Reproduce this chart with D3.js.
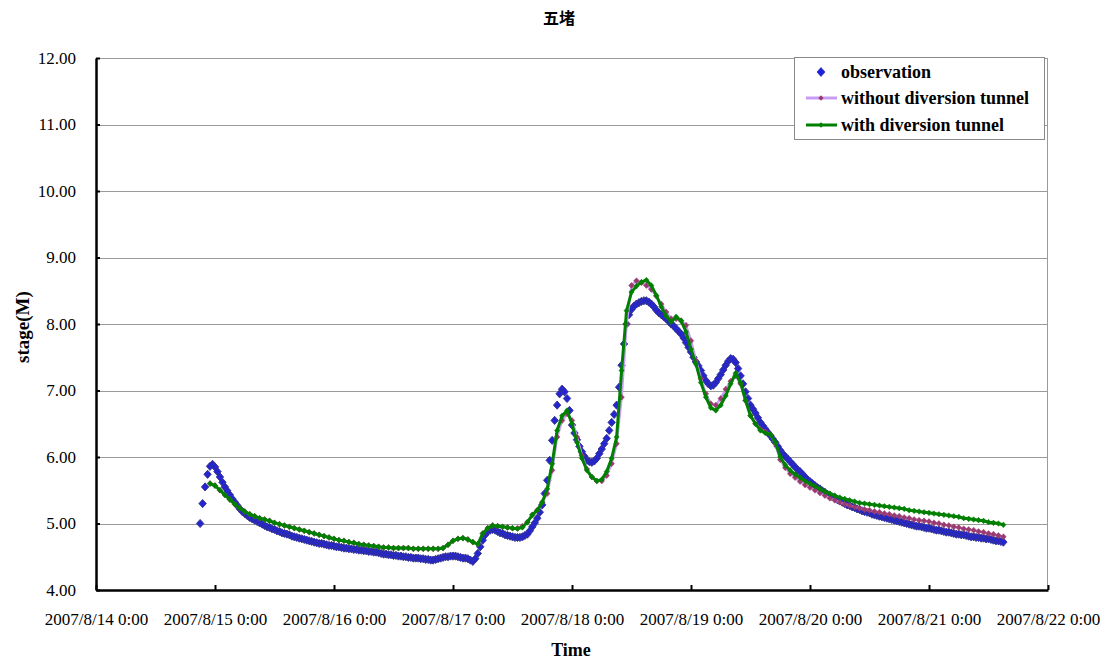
<!DOCTYPE html>
<html><head><meta charset="utf-8">
<script src="https://cdn.jsdelivr.net/npm/d3@7"></script>
<style>
html,body{margin:0;padding:0;background:#fff;}
svg{display:block;}
</style></head>
<body>
<svg id="chart" width="1107" height="664"></svg>
<script>
// ---- DATA (hours counted from 2007/8/14 0:00) ----
const title = "五堵";
const seriesNames = ["observation", "without diversion tunnel", "with diversion tunnel"];
const xTickLabels = ["2007/8/14 0:00","2007/8/15 0:00","2007/8/16 0:00","2007/8/17 0:00","2007/8/18 0:00","2007/8/19 0:00","2007/8/20 0:00","2007/8/21 0:00","2007/8/22 0:00"];
const yTicks = [4,5,6,7,8,9,10,11,12];

// observation: every 30 minutes from hour 21 (2007/8/14 21:00)
const observationStartHour = 21;
const observationStepHours = 0.5;
const observation = [
5.00,5.30,5.55,5.74,5.86,5.89,5.85,5.78,5.70,5.62,
5.55,5.49,5.43,5.37,5.32,5.27,5.22,5.18,5.15,5.12,
5.09,5.07,5.05,5.03,5.01,4.99,4.97,4.95,4.94,4.92,
4.91,4.89,4.88,4.86,4.85,4.84,4.83,4.81,4.80,4.79,
4.78,4.77,4.76,4.75,4.74,4.73,4.72,4.71,4.70,4.70,
4.69,4.68,4.67,4.67,4.66,4.65,4.65,4.64,4.63,4.63,
4.62,4.62,4.61,4.61,4.60,4.60,4.59,4.59,4.58,4.58,
4.57,4.57,4.56,4.55,4.54,4.54,4.53,4.53,4.52,4.52,
4.51,4.51,4.50,4.50,4.49,4.49,4.48,4.48,4.48,4.47,
4.47,4.46,4.46,4.45,4.45,4.46,4.47,4.48,4.49,4.50,
4.50,4.51,4.51,4.51,4.50,4.49,4.48,4.48,4.47,4.45,
4.43,4.47,4.55,4.65,4.75,4.83,4.88,4.90,4.91,4.90,
4.88,4.86,4.85,4.83,4.82,4.81,4.80,4.79,4.79,4.79,
4.80,4.82,4.84,4.89,4.95,5.01,5.08,5.17,5.28,5.45,
5.65,5.95,6.25,6.55,6.78,6.95,7.02,6.98,6.88,6.70,
6.48,6.36,6.26,6.16,6.08,6.01,5.95,5.93,5.92,5.94,
5.98,6.05,6.12,6.20,6.28,6.40,6.52,6.64,6.78,7.05,
7.38,7.70,8.00,8.14,8.22,8.27,8.30,8.32,8.34,8.35,
8.35,8.33,8.30,8.26,8.21,8.17,8.14,8.11,8.08,8.04,
8.00,7.97,7.93,7.89,7.85,7.79,7.72,7.65,7.58,7.50,
7.43,7.37,7.30,7.22,7.15,7.10,7.07,7.08,7.12,7.18,
7.24,7.31,7.38,7.44,7.48,7.47,7.42,7.33,7.22,7.10,
6.98,6.88,6.78,6.72,6.66,6.59,6.52,6.47,6.42,6.37,
6.32,6.27,6.22,6.16,6.10,6.05,6.01,5.97,5.93,5.89,
5.85,5.81,5.78,5.74,5.70,5.66,5.63,5.60,5.57,5.54,
5.52,5.49,5.47,5.44,5.42,5.40,5.38,5.36,5.34,5.32,
5.30,5.28,5.27,5.25,5.24,5.22,5.21,5.19,5.18,5.17,
5.16,5.14,5.13,5.12,5.11,5.10,5.09,5.08,5.07,5.06,
5.05,5.04,5.03,5.02,5.01,5.00,4.99,4.98,4.97,4.96,
4.96,4.95,4.94,4.93,4.93,4.92,4.91,4.90,4.90,4.89,
4.88,4.87,4.87,4.86,4.85,4.84,4.84,4.83,4.83,4.82,
4.81,4.80,4.80,4.79,4.79,4.78,4.78,4.77,4.77,4.76,
4.75,4.74,4.74,4.73,4.72];

// model results: hourly from hour 23 (2007/8/14 23:00)
const modelStartHour = 23;
const modelStepHours = 1;
const withoutTunnel = [
5.60,5.57,5.50,5.43,5.36,5.29,5.23,5.18,5.14,5.11,
5.08,5.06,5.04,5.01,4.99,4.97,4.95,4.93,4.91,4.89,
4.87,4.85,4.83,4.81,4.79,4.77,4.75,4.74,4.72,4.71,
4.69,4.68,4.67,4.66,4.65,4.64,4.64,4.63,4.63,4.63,
4.63,4.62,4.62,4.62,4.62,4.62,4.62,4.63,4.68,4.74,
4.77,4.78,4.76,4.72,4.69,4.85,4.93,4.97,4.96,4.95,
4.94,4.93,4.93,4.96,5.02,5.13,5.20,5.32,5.45,5.80,
6.30,6.55,6.65,6.55,6.30,6.02,5.82,5.70,5.64,5.64,
5.72,5.90,6.20,6.90,8.00,8.58,8.65,8.62,8.58,8.52,
8.42,8.30,8.18,8.08,8.08,8.05,7.98,7.75,7.45,7.18,
6.95,6.80,6.78,6.88,7.02,7.14,7.22,7.10,6.85,6.62,
6.50,6.42,6.38,6.34,6.20,5.96,5.84,5.75,5.69,5.63,
5.58,5.54,5.50,5.46,5.42,5.38,5.35,5.32,5.29,5.27,
5.25,5.23,5.21,5.20,5.18,5.17,5.15,5.14,5.12,5.11,
5.09,5.08,5.06,5.05,5.04,5.03,5.01,5.00,4.98,4.97,
4.95,4.94,4.92,4.91,4.90,4.88,4.87,4.85,4.84,4.82,
4.80];
const withTunnel = [
5.60,5.57,5.50,5.43,5.36,5.29,5.23,5.18,5.14,5.11,
5.08,5.06,5.04,5.01,4.99,4.97,4.95,4.93,4.91,4.89,
4.87,4.85,4.83,4.81,4.79,4.77,4.75,4.74,4.72,4.71,
4.69,4.68,4.67,4.66,4.65,4.64,4.64,4.63,4.63,4.63,
4.63,4.62,4.62,4.62,4.62,4.62,4.62,4.63,4.68,4.74,
4.77,4.78,4.76,4.72,4.69,4.85,4.93,4.97,4.96,4.95,
4.94,4.93,4.92,4.94,5.02,5.13,5.20,5.32,5.52,5.90,
6.40,6.62,6.70,6.50,6.22,5.98,5.80,5.70,5.64,5.66,
5.78,5.98,6.30,7.30,8.20,8.48,8.57,8.63,8.66,8.58,
8.43,8.26,8.12,8.03,8.11,8.05,7.88,7.62,7.40,7.12,
6.90,6.74,6.70,6.78,6.92,7.10,7.26,7.12,6.85,6.62,
6.50,6.40,6.36,6.34,6.22,6.00,5.88,5.80,5.74,5.69,
5.64,5.60,5.56,5.52,5.48,5.45,5.42,5.39,5.37,5.35,
5.33,5.31,5.30,5.29,5.28,5.27,5.26,5.25,5.24,5.23,
5.22,5.20,5.19,5.18,5.17,5.16,5.15,5.14,5.13,5.12,
5.11,5.10,5.08,5.07,5.06,5.05,5.04,5.02,5.01,5.00,
4.98];

// ---- CHART ----
const svg = d3.select("#chart");
const m = {left: 96, right: 1047, top: 58, bottom: 590};
const t0 = new Date(2007, 7, 14, 0, 0);
const hourToDate = h => new Date(t0.getTime() + h * 3600000);
const x = d3.scaleTime().domain([t0, new Date(2007, 7, 22, 0, 0)]).range([m.left, m.right + 1]);
const y = d3.scaleLinear().domain([4, 12]).range([m.bottom, m.top]);

const serif = "'Liberation Serif','Times New Roman',serif";

// gridlines
svg.append("g").selectAll("line").data(yTicks.filter(v => v > 4)).join("line")
  .attr("x1", m.left).attr("x2", m.right)
  .attr("y1", d => Math.round(y(d)) + 0.5).attr("y2", d => Math.round(y(d)) + 0.5)
  .attr("stroke", "#9a9a9a").attr("stroke-width", 1);
// right border of plot area
svg.append("line").attr("x1", m.right + 0.5).attr("x2", m.right + 0.5)
  .attr("y1", m.top).attr("y2", m.bottom).attr("stroke", "#9a9a9a");

// axes
const xTickDates = xTickLabels.map((s, i) => new Date(2007, 7, 14 + i));
const xAxis = d3.axisBottom(x).tickValues(xTickDates)
  .tickFormat((d, i) => xTickLabels[i]).tickSizeInner(-5).tickSizeOuter(0).tickPadding(23);
const gx = svg.append("g").attr("transform", `translate(0,${m.bottom})`).call(xAxis);
gx.select(".domain").attr("stroke", "#000").attr("stroke-width", 2.5);
gx.selectAll(".tick line").attr("stroke", "#000").attr("stroke-width", 2);
gx.selectAll("text").attr("font-family", serif).attr("font-size", 17).attr("fill", "#000");

const yAxis = d3.axisLeft(y).tickValues(yTicks).tickFormat(d3.format(".2f"))
  .tickSizeInner(-4).tickSizeOuter(0).tickPadding(20);
const gy = svg.append("g").attr("transform", `translate(${m.left},0)`).call(yAxis);
gy.select(".domain").attr("stroke", "#000").attr("stroke-width", 2.5);
gy.selectAll(".tick line").attr("stroke", "#000").attr("stroke-width", 2);
gy.selectAll("text").attr("font-family", serif).attr("font-size", 17).attr("fill", "#000");

// series data
const obsData = observation.map((v, i) => ({t: hourToDate(observationStartHour + i * observationStepHours), v}));
const woData = withoutTunnel.map((v, i) => ({t: hourToDate(modelStartHour + i * modelStepHours), v}));
const wData = withTunnel.map((v, i) => ({t: hourToDate(modelStartHour + i * modelStepHours), v}));

const line = d3.line().x(d => x(d.t)).y(d => y(d.v));
const diamond = (w, h) => `M0,${-h}L${w},0L0,${h}L${-w},0Z`;

// observation markers
svg.append("g").selectAll("path").data(obsData).join("path")
  .attr("transform", d => `translate(${x(d.t)},${y(d.v)})`)
  .attr("d", diamond(3.7, 4.1))
  .attr("fill", "#2424d2").attr("stroke", "#34348a").attr("stroke-width", 0.9);

// without tunnel
svg.append("path").datum(woData).attr("d", line)
  .attr("fill", "none").attr("stroke", "#c89cf5").attr("stroke-width", 2.5);
svg.append("g").selectAll("path").data(woData).join("path")
  .attr("transform", d => `translate(${x(d.t)},${y(d.v)})`)
  .attr("d", diamond(2.8, 3))
  .attr("fill", "#9b3a6e").attr("stroke", "#9b3a6e").attr("stroke-width", 0.5);

// with tunnel
svg.append("path").datum(wData).attr("d", line)
  .attr("fill", "none").attr("stroke", "#008000").attr("stroke-width", 3);
svg.append("g").selectAll("path").data(wData).join("path")
  .attr("transform", d => `translate(${x(d.t)},${y(d.v)})`)
  .attr("d", diamond(2.6, 2.8))
  .attr("fill", "#008000").attr("stroke", "#008000").attr("stroke-width", 0.5);

// title
svg.append("text").attr("x", 559).attr("y", 24).attr("text-anchor", "middle")
  .attr("font-family", "'Noto Sans CJK TC','Noto Sans CJK SC',sans-serif").attr("font-weight", "bold")
  .attr("font-size", 16).text(title);

// axis titles
svg.append("text").attr("x", 571).attr("y", 656).attr("text-anchor", "middle")
  .attr("font-family", serif).attr("font-weight", "bold").attr("font-size", 18).text("Time");
svg.append("text").attr("transform", "translate(29,327) rotate(-90)").attr("text-anchor", "middle")
  .attr("font-family", serif).attr("font-weight", "bold").attr("font-size", 19).text("stage(M)");

// legend
const lg = svg.append("g");
lg.append("rect").attr("x", 794.5).attr("y", 57.5).attr("width", 250).attr("height", 82)
  .attr("fill", "#fff").attr("stroke", "#8a8a8a").attr("stroke-width", 1);
const rowsY = [72, 98, 125];
lg.append("path").attr("transform", `translate(821,${rowsY[0]})`).attr("d", diamond(4, 4.5))
  .attr("fill", "#1e1ee8").attr("stroke", "#2a2a8c").attr("stroke-width", 0.7);
lg.append("line").attr("x1", 806).attr("x2", 837).attr("y1", rowsY[1]).attr("y2", rowsY[1])
  .attr("stroke", "#c89cf5").attr("stroke-width", 3);
lg.append("path").attr("transform", `translate(821,${rowsY[1]})`).attr("d", diamond(2.6, 2.8))
  .attr("fill", "#9b3a6e");
lg.append("line").attr("x1", 806).attr("x2", 837).attr("y1", rowsY[2]).attr("y2", rowsY[2])
  .attr("stroke", "#008000").attr("stroke-width", 3);
lg.append("path").attr("transform", `translate(821,${rowsY[2]})`).attr("d", diamond(2.6, 2.8))
  .attr("fill", "#008000");
lg.selectAll("text.lab").data(seriesNames).join("text").attr("class", "lab")
  .attr("x", 841).attr("y", (d, i) => rowsY[i]).attr("dy", "0.35em")
  .attr("font-family", serif).attr("font-weight", "bold").attr("font-size", 18).text(d => d);
</script>
</body></html>
